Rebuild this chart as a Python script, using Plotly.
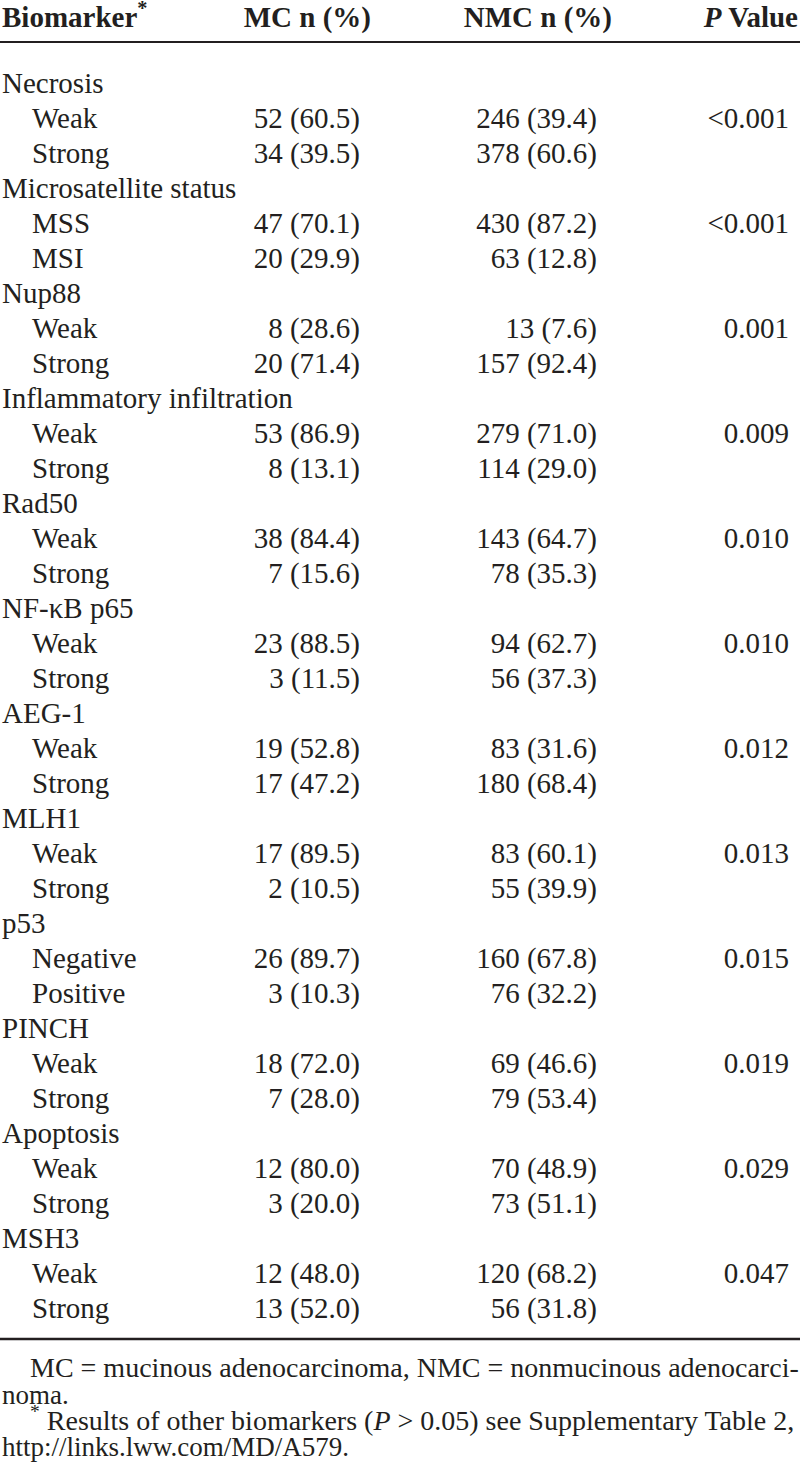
import plotly.graph_objects as go

# ---------------- data ----------------
groups = ["Necrosis", "Microsatellite status", "Nup88", "Inflammatory infiltration",
          "Rad50", "NF-κB p65", "AEG-1", "MLH1", "p53", "PINCH", "Apoptosis", "MSH3"]
level_1 = ["Weak", "MSS", "Weak", "Weak", "Weak", "Weak", "Weak", "Weak", "Negative",
           "Weak", "Weak", "Weak"]
level_2 = ["Strong", "MSI", "Strong", "Strong", "Strong", "Strong", "Strong", "Strong",
           "Positive", "Strong", "Strong", "Strong"]
mc_n_1 = [52, 47, 8, 53, 38, 23, 19, 17, 26, 18, 12, 12]
mc_pct_1 = [60.5, 70.1, 28.6, 86.9, 84.4, 88.5, 52.8, 89.5, 89.7, 72.0, 80.0, 48.0]
mc_n_2 = [34, 20, 20, 8, 7, 3, 17, 2, 3, 7, 3, 13]
mc_pct_2 = [39.5, 29.9, 71.4, 13.1, 15.6, 11.5, 47.2, 10.5, 10.3, 28.0, 20.0, 52.0]
nmc_n_1 = [246, 430, 13, 279, 143, 94, 83, 83, 160, 69, 70, 120]
nmc_pct_1 = [39.4, 87.2, 7.6, 71.0, 64.7, 62.7, 31.6, 60.1, 67.8, 46.6, 48.9, 68.2]
nmc_n_2 = [378, 63, 157, 114, 78, 56, 180, 55, 76, 79, 73, 56]
nmc_pct_2 = [60.6, 12.8, 92.4, 29.0, 35.3, 37.3, 68.4, 39.9, 32.2, 53.4, 51.1, 31.8]
p_values = ["<0.001", "<0.001", "0.001", "0.009", "0.010", "0.010", "0.012", "0.013",
            "0.015", "0.019", "0.029", "0.047"]

headers = ["Biomarker<sup>*</sup>", "MC n (%)", "NMC n (%)", "<i>P</i> Value"]
footnotes = [
    "MC = mucinous adenocarcinoma, NMC = nonmucinous adenocarci-",
    "noma.",
    "<sup>*</sup> Results of other biomarkers (<i>P</i> &gt; 0.05) see Supplementary Table 2,",
    "http://links.lww.com/MD/A579.",
]

# ---------------- layout constants ----------------
W, H = 800, 1479
FONT = "Liberation Serif, Times New Roman, serif"
INK = "#231f20"
FS = 29
ROW0 = 85.75
ROW_STEP = 35.0
X_LABEL, X_INDENT = 2, 32
X_MC, X_NMC, X_P = 360, 597, 789

def esc(s):
    return s.replace("<", "&lt;").replace(">", "&gt;")

# build row texts
lab_x, lab_y, lab_t = [], [], []
mc_y, mc_t, nmc_t, p_y, p_t = [], [], [], [], []
for g in range(len(groups)):
    y0 = ROW0 + ROW_STEP * (3 * g)
    lab_x += [X_LABEL, X_INDENT, X_INDENT]
    lab_y += [y0, y0 + ROW_STEP, y0 + 2 * ROW_STEP]
    lab_t += [groups[g], level_1[g], level_2[g]]
    mc_y += [y0 + ROW_STEP, y0 + 2 * ROW_STEP]
    mc_t += [f"{mc_n_1[g]} ({mc_pct_1[g]:.1f})", f"{mc_n_2[g]} ({mc_pct_2[g]:.1f})"]
    nmc_t += [f"{nmc_n_1[g]} ({nmc_pct_1[g]:.1f})", f"{nmc_n_2[g]} ({nmc_pct_2[g]:.1f})"]
    p_y.append(y0 + ROW_STEP)
    p_t.append(esc(p_values[g]))

fig = go.Figure()
font = dict(family=FONT, size=FS, color=INK)

def txt(x, y, t, pos, f=font):
    fig.add_trace(go.Scatter(x=x, y=y, text=t, mode="text", textposition=pos,
                             textfont=f, hoverinfo="skip", showlegend=False, cliponaxis=False))

# header
hfont = dict(family=FONT, size=FS, color=INK, weight="bold")
HY = 19.75
txt([X_LABEL], [HY], ["<b>" + headers[0] + "</b>"], "middle right", hfont)
txt([371, 612, 798], [HY] * 3, ["<b>" + h + "</b>" for h in headers[1:]], "middle left", hfont)

# body
txt(lab_x, lab_y, lab_t, "middle right")
txt([X_MC] * len(mc_y), mc_y, mc_t, "middle left")
txt([X_NMC] * len(mc_y), mc_y, nmc_t, "middle left")
txt([X_P] * len(p_y), p_y, p_t, "middle left")

# footnotes (justified lines slightly larger to fill the measure)
foot_y = [1370, 1397, 1423, 1449]
foot_x = [30, 2, 30, 2]
foot_fs = [28, 27, 28, 27]
for i in range(len(footnotes)):
    txt([foot_x[i]], [foot_y[i]], [footnotes[i]], "middle right",
        dict(family=FONT, size=foot_fs[i], color=INK))

# rules
fig.add_shape(type="line", x0=0, x1=W, y0=42, y1=42, line=dict(color=INK, width=2.2))
fig.add_shape(type="line", x0=0, x1=W, y0=1339, y1=1339, line=dict(color=INK, width=2.6))

fig.update_layout(
    width=W, height=H, margin=dict(l=0, r=0, t=0, b=0),
    paper_bgcolor="white", plot_bgcolor="white",
    xaxis=dict(range=[0, W], visible=False, fixedrange=True),
    yaxis=dict(range=[H, 0], visible=False, fixedrange=True),
)
fig.write_html("out.html", config={"displayModeBar": False},
               post_script="document.body.style.margin='0';")
